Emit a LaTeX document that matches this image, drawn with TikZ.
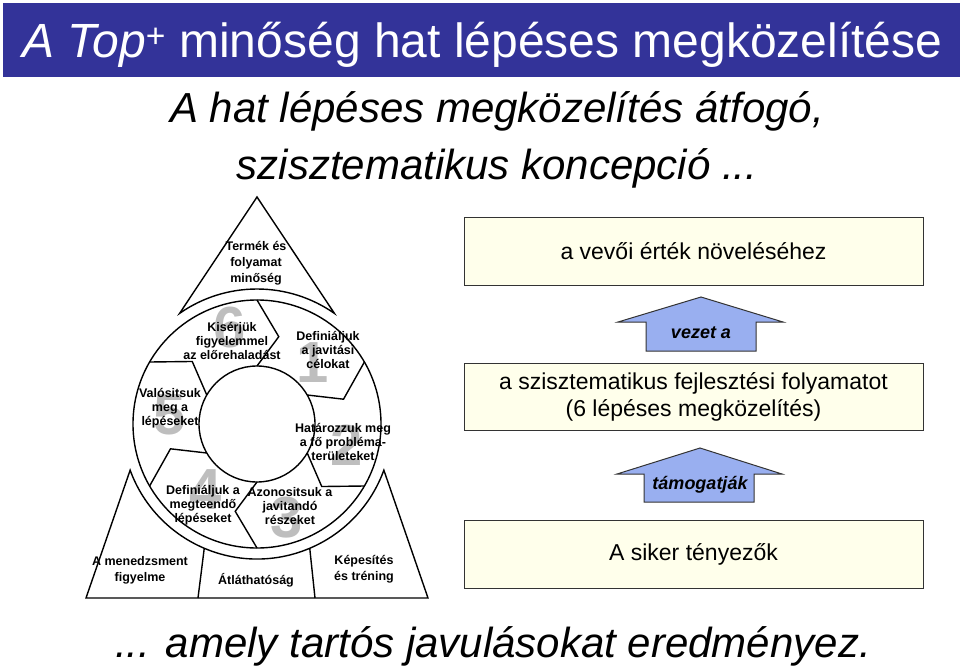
\documentclass[tikz,border=0pt]{standalone}
\usepackage{fontspec}
\setmainfont{Liberation Sans}
\definecolor{titleblue}{RGB}{51,51,153}
\definecolor{boxyellow}{RGB}{255,255,235}
\definecolor{arrowblue}{RGB}{153,175,240}
\definecolor{digitgray}{RGB}{190,190,190}
\tikzset{
  bignote/.style={font=\itshape\fontsize{42}{42}\selectfont},
  goalbox/.style={draw=black!80, fill=boxyellow, line width=1pt, minimum width=459pt, minimum height=68pt, align=center, font=\fontsize{23}{27}\selectfont},
  uparrow/.style={draw=black!80, fill=arrowblue, line width=1pt},
  arrowtext/.style={font=\bfseries\itshape\fontsize{18}{18}\selectfont},
  steptext/.style={align=center, font=\bfseries\fontsize{12.5}{14}\selectfont},
  pillartext/.style={align=center, font=\bfseries\fontsize{12.5}{16}\selectfont},
  stepnum/.style={text=digitgray, font=\bfseries\fontsize{58}{58}\selectfont},
}
\begin{document}
\begin{tikzpicture}[x=1pt,y=-1pt]
\useasboundingbox (0,0) rectangle (960,669);
% title and the two notes
\fill[titleblue] (3,3) rectangle (960,77);
\node[anchor=base west, text=white, inner sep=0pt, font=\fontsize{48}{48}\selectfont] (title) at (22,57) {{\itshape A Top}\textsuperscript{+} minőség hat lépéses megközelítése};
\node[bignote, anchor=base] (sub1) at (497,122) {A hat lépéses megközelítés átfogó,};
\node[bignote, anchor=base] (sub2) at (497,179) {szisztematikus koncepció ...};
\node[bignote, anchor=base] (result) at (493,657) {... amely tartós javulásokat eredményez.};
% right column
\node[goalbox] (value) at (693.5,251) {a vevői érték növeléséhez};
\node[goalbox, minimum height=67pt] (process) at (693.5,396.5) {a szisztematikus fejlesztési folyamatot\\(6 lépéses megközelítés)};
\node[goalbox] (factors) at (693.5,554) {A siker tényezők};
\draw[uparrow] (701,297) -- (783,322) -- (756,322) -- (756,351) -- (646,351) -- (646,322) -- (618,322) -- cycle;
\node[arrowtext] (leads) at (701,333) {vezet a};
\draw[uparrow] (700,448) -- (782,474) -- (754,474) -- (754,502) -- (644,502) -- (644,474) -- (617,474) -- cycle;
\node[arrowtext] (supports) at (700,485) {támogatják};
% the six step wheel
\begin{scope}[shift={(257,424)}, y=1pt, line width=1.4pt]
\node[stepnum] (n1) at (56,61) {1}; \node[stepnum] (n2) at (90,-21) {2}; \node[stepnum] (n3) at (30,-94) {3};
\node[stepnum] (n4) at (-51,-66) {4}; \node[stepnum] (n5) at (-87,9) {5}; \node[stepnum] (n6) at (-27,96) {6};
\draw (0,0) circle (124); \draw (0,0) circle (58);
\foreach \a in {90,30,-30,-90,-150,150} \draw ({\a}:124) -- ({\a-14}:90) -- ({\a}:58);
\draw (0,227) -- (125:135) arc[start angle=125, end angle=55, radius=135] -- cycle;
\draw (200:135) -- (-171,-174) -- (171,-174) -- (-20:135) arc[start angle=-20, end angle=-160, radius=135] -- cycle;
\draw (-113:135) -- (-59,-174); \draw (-67:135) -- (58,-174);
\node[steptext] (s6) at (-25,83) {Kisérjük\\figyelemmel\\az előrehaladást};
\node[steptext] (s1) at (71,74) {Definiáljuk\\a javitási\\célokat};
\node[steptext] (s2) at (86,-18) {Határozzuk meg\\a fő probléma-\\területeket};
\node[steptext] (s3) at (33,-82) {Azonositsuk a\\javitandó\\részeket};
\node[steptext] (s4) at (-54,-81) {Definiáljuk a\\megteendő\\lépéseket};
\node[steptext] (s5) at (-87,16) {Valósitsuk\\meg a\\lépéseket};
\node[pillartext] (quality) at (-1,161) {Termék és\\folyamat\\minőség};
\node[pillartext] (mgmt) at (-117,-146) {A menedzsment\\figyelme};
\node[pillartext] (clear) at (-1,-156) {Átláthatóság};
\node[pillartext] (train) at (107,-145) {Képesítés\\és tréning};
\end{scope}
\end{tikzpicture}
\end{document}
